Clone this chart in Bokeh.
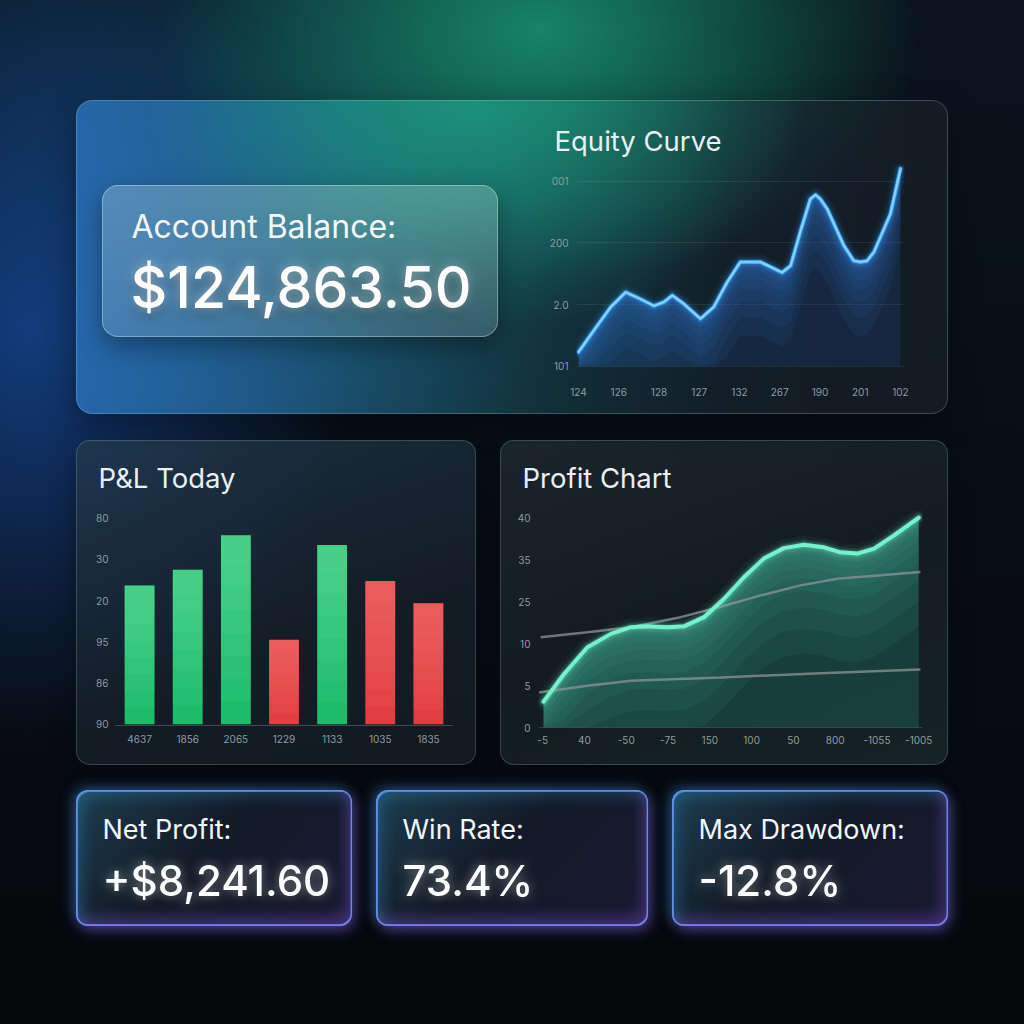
import numpy as np
from bokeh.plotting import figure
from bokeh.models import Range1d, FactorRange, FixedTicker, Spacer, Row, Column
from bokeh.core.properties import value
from bokeh.embed import file_html
from bokeh.resources import INLINE

FONT = "Inter"
FONT_MED = "'Inter Medium', 'Inter', sans-serif"

# ---------------- data ----------------
ACCOUNT_LABEL = "Account Balance:"
ACCOUNT_VALUE = "$124,863.50"

EQ_TITLE = "Equity Curve"
EQ_X = [0.0, 0.38, 0.80, 1.17, 1.54, 1.87, 2.12, 2.33, 2.62, 3.03, 3.36, 3.69, 4.02,
        4.52, 5.06, 5.27, 5.52, 5.76, 5.89, 6.01, 6.18, 6.59, 6.84, 7.01, 7.17, 7.34, 7.75, 8.0]
EQ_Y = [0.23, 0.58, 0.96, 1.20, 1.09, 0.98, 1.04, 1.15, 1.01, 0.77, 0.96, 1.36, 1.69,
        1.69, 1.52, 1.63, 2.20, 2.71, 2.78, 2.71, 2.55, 1.96, 1.71, 1.69, 1.71, 1.85, 2.47, 3.20]
EQ_X_TICK_LABELS = ["124", "126", "128", "127", "132", "267", "190", "201", "102"]
EQ_Y_TICK_LABELS = ["101", "2.0", "200", "001"]

PL_TITLE = "P&L Today"
PL_CATS = ["4637", "1856", "2065", "1229", "1133", "1035", "1835"]
PL_VALUES = [3.37, 3.75, 4.59, 2.05, 4.35, 3.48, 2.94]
PL_SIDE = ["gain", "gain", "gain", "loss", "gain", "loss", "loss"]
PL_Y_TICK_LABELS = ["90", "86", "95", "20", "30", "80"]

PC_TITLE = "Profit Chart"
PC_X = [0.02, 0.51, 1.07, 1.63, 2.11, 2.50, 2.98, 3.38, 3.86, 4.34, 4.82, 5.29, 5.77,
        6.25, 6.73, 7.13, 7.53, 7.93, 8.40, 9.0]
PC_Y = [0.62, 1.28, 1.92, 2.24, 2.40, 2.42, 2.40, 2.42, 2.64, 3.08, 3.60, 4.04, 4.29,
        4.37, 4.31, 4.19, 4.16, 4.28, 4.59, 5.02]
PC_REF1_X = [-0.05, 1.07, 2.11, 3.30, 4.26, 5.22, 6.17, 7.05, 8.09, 9.04]
PC_REF1_Y = [2.16, 2.28, 2.40, 2.64, 2.89, 3.16, 3.40, 3.56, 3.64, 3.72]
PC_REF2_X = [-0.09, 1.07, 2.11, 4.26, 6.65, 9.04]
PC_REF2_Y = [0.84, 1.00, 1.12, 1.20, 1.30, 1.39]
PC_X_TICK_LABELS = ["-5", "40", "-50", "-75", "150", "100", "50", "800", "-1055", "-1005"]
PC_Y_TICK_LABELS = ["0", "5", "10", "25", "35", "40"]

KPI_LABELS = ["Net Profit:", "Win Rate:", "Max Drawdown:"]
KPI_VALUES = ["+$8,241.60", "73.4%", "-12.8%"]

# ---------------- helpers ----------------
def base_fig(w, h, xr, yr, ml=0, mr=0, mt=0, mb=0, axes=False):
    kw = dict(width=w, height=h, x_range=xr, y_range=yr, output_backend="svg",
              toolbar_location=None, min_border_left=ml, min_border_right=mr,
              min_border_top=mt, min_border_bottom=mb)
    if not axes:
        kw.update(x_axis_location=None, y_axis_location=None)
    p = figure(**kw)
    p.outline_line_color = None
    p.background_fill_alpha = 0
    p.border_fill_alpha = 0
    for g in p.grid:
        g.visible = False
    return p


def text_fig(w, h, items, styles=None):
    p = base_fig(w, h, Range1d(0, w), Range1d(h, 0))
    for x, y, t, size, color, font in items:
        p.text(x=[x], y=[y], text=[t], text_font=value(font), text_font_size=f"{size}px",
               text_color=color, text_align="left", text_baseline="middle")
    if styles:
        p.styles = styles
    return p


def title_block(w, h, x, y, txt):
    # small offset so the title canvas does not share an edge with the chart below it
    tf = text_fig(w - 2, h, [(x - 2, y, txt, 27.5, TITLE_COLOR, FONT)])
    return Row(children=[Spacer(width=2, height=h), tf])


def style_axes(p, xstand, ystand, size="10px", color="#8e9ba3"):
    for ax in p.axis:
        ax.axis_line_color = None
        ax.major_tick_line_color = None
        ax.minor_tick_line_color = None
        ax.major_tick_out = 0
        ax.major_tick_in = 0
        ax.minor_tick_out = 0
        ax.major_label_text_font = FONT
        ax.major_label_text_font_size = size
        ax.major_label_text_color = color
    p.xaxis.major_label_standoff = xstand
    p.yaxis.major_label_standoff = ystand


def set_ticks(axis, labels):
    axis.ticker = FixedTicker(ticks=list(range(len(labels))))
    axis.major_label_overrides = {i: s for i, s in enumerate(labels)}


TITLE_COLOR = "#e9eff2"
GLOW = {"filter": "drop-shadow(0 0 6px rgba(255,255,255,0.5)) drop-shadow(0 6px 6px rgba(0,0,0,0.35))"}

# ---------------- top panel ----------------
acct_label = text_fig(396, 60, [(29, 41, ACCOUNT_LABEL, 32, "#f4f8f9", FONT)])
acct_value = text_fig(396, 92, [(28, 42, ACCOUNT_VALUE, 57, "#ffffff", FONT_MED)], styles=GLOW)
acct_box = Column(children=[acct_label, acct_value], styles={
    "border-radius": "16px",
    "background": "linear-gradient(180deg, rgba(210,240,238,0.27) 0%, rgba(185,225,228,0.20) 100%)",
    "box-shadow": "inset 0 0 0 1px rgba(255,255,255,0.32), 0 10px 24px rgba(0,0,0,0.35)",
})
acct_col = Column(children=[Spacer(height=85, width=396), acct_box])

eq_title = title_block(412, 64, 18, 40, EQ_TITLE)
eq = base_fig(412, 250, Range1d(-0.05, 8.1), Range1d(-0.085, 3.27), ml=40, mr=44, mt=0, mb=43, axes=True)
style_axes(eq, 16, 8, size="10px")
set_ticks(eq.xaxis, EQ_X_TICK_LABELS)
set_ticks(eq.yaxis, EQ_Y_TICK_LABELS)
eq.ygrid.visible = True
eq.ygrid.ticker = FixedTicker(ticks=list(range(len(EQ_Y_TICK_LABELS))))
eq.ygrid.grid_line_color = "#ffffff"
eq.ygrid.grid_line_alpha = 0.08

ey = np.array(EQ_Y)
eq.varea(x=EQ_X, y1=0, y2=EQ_Y, fill_color="#2560c0", fill_alpha=0.18)
for off in [1.2, 0.9, 0.65, 0.45, 0.3, 0.18, 0.08]:
    eq.varea(x=EQ_X, y1=np.maximum(ey - off, 0), y2=EQ_Y, fill_color="#3a8ef5", fill_alpha=0.07)
for w, a in [(16, 0.06), (10, 0.12), (6, 0.25)]:
    eq.line(EQ_X, EQ_Y, line_color="#2f9bff", line_width=w, line_alpha=a, line_join="round", line_cap="round")
eq.line(EQ_X, EQ_Y, line_color="#58bcff", line_width=3.5, line_join="round", line_cap="round")
eq.line(EQ_X, EQ_Y, line_color="#c4eaff", line_width=1.2, line_alpha=0.6, line_join="round")

eq_col = Column(children=[eq_title, eq])

top_panel = Row(children=[Spacer(width=26, height=10), acct_col, Spacer(width=38, height=10), eq_col], styles={
    "border-radius": "16px",
    "background": ("radial-gradient(ellipse 330px 230px at 400px 0px, rgba(28,165,128,0.70) 0%, rgba(28,165,128,0) 100%), "
                   "linear-gradient(90deg, rgba(42,112,182,0.85) 0%, rgba(36,118,160,0.62) 30%, rgba(28,86,96,0.45) 55%, "
                   "rgba(26,42,52,0.55) 75%, rgba(26,34,42,0.62) 100%)"),
    "box-shadow": "inset 0 0 0 1px rgba(170,210,230,0.28), 0 10px 30px rgba(0,0,0,0.35)",
})
top_row = Row(children=[Spacer(width=76, height=10), top_panel])

# ---------------- P&L panel ----------------
pl_title = title_block(400, 72, 22, 37, PL_TITLE)
pl = base_fig(400, 253, FactorRange(factors=PL_CATS), Range1d(-0.03, 5.14), ml=39, mr=24, mt=0, mb=40, axes=True)
style_axes(pl, 9, 7, size="10px")
pl.xaxis.axis_line_color = "#3e4c56"
pl.xaxis.axis_line_width = 1.2
set_ticks(pl.yaxis, PL_Y_TICK_LABELS)
base_col = {"gain": "#15b966", "loss": "#df3a3a"}
light_col = {"gain": "#8ef0b2", "loss": "#ff8c8c"}
pl.vbar(x=PL_CATS, top=PL_VALUES, width=0.62, fill_color=[base_col[s] for s in PL_SIDE], line_color=None)
pv = np.array(PL_VALUES)
for k in [0.0, 0.12, 0.24, 0.36, 0.48, 0.6, 0.72, 0.84]:
    pl.vbar(x=PL_CATS, top=PL_VALUES, bottom=list(pv * k), width=0.62,
            fill_color=[light_col[s] for s in PL_SIDE], fill_alpha=0.07, line_color=None)

pl_panel = Column(children=[pl_title, pl], styles={
    "border-radius": "14px",
    "background": "linear-gradient(160deg, rgba(34,58,76,0.75) 0%, rgba(22,33,43,0.78) 60%, rgba(21,29,35,0.82) 100%)",
    "box-shadow": "inset 0 0 0 1px rgba(150,190,200,0.25), 0 8px 24px rgba(0,0,0,0.35)",
})

# ---------------- Profit panel ----------------
pc_title = title_block(448, 70, 22, 37, PC_TITLE)
pc = base_fig(448, 255, Range1d(-0.1, 9.09), Range1d(-0.07, 5.19), ml=38, mr=26, mt=0, mb=35, axes=True)
style_axes(pc, 5, 8, size="10px")
set_ticks(pc.xaxis, PC_X_TICK_LABELS)
set_ticks(pc.yaxis, PC_Y_TICK_LABELS)
pc.ygrid.visible = True
pc.ygrid.ticker = FixedTicker(ticks=[0])
pc.ygrid.grid_line_color = "#ffffff"
pc.ygrid.grid_line_alpha = 0.15

py_ = np.array(PC_Y)
pc.varea(x=PC_X, y1=0, y2=PC_Y, fill_color="#1f6e62", fill_alpha=0.4)
for off in [2.6, 2.0, 1.5, 1.1, 0.8, 0.55, 0.35, 0.18]:
    pc.varea(x=PC_X, y1=np.maximum(py_ - off, 0), y2=PC_Y, fill_color="#52c4aa", fill_alpha=0.075)
pc.line(PC_REF1_X, PC_REF1_Y, line_color="#8c9594", line_width=2.5, line_alpha=0.75)
pc.line(PC_REF2_X, PC_REF2_Y, line_color="#8c9594", line_width=2.5, line_alpha=0.75)
for w, a in [(18, 0.05), (11, 0.10), (7, 0.2)]:
    pc.line(PC_X, PC_Y, line_color="#6cf0c6", line_width=w, line_alpha=a, line_join="round", line_cap="round")
pc.line(PC_X, PC_Y, line_color="#74f2cc", line_width=4, line_join="round", line_cap="round")

pc_panel = Column(children=[pc_title, pc], styles={
    "border-radius": "14px",
    "background": "linear-gradient(160deg, rgba(30,44,50,0.78) 0%, rgba(22,31,35,0.8) 50%, rgba(24,42,42,0.78) 100%)",
    "box-shadow": "inset 0 0 0 1px rgba(150,200,190,0.25), 0 8px 24px rgba(0,0,0,0.35)",
})

mid_row = Row(children=[Spacer(width=76, height=10), pl_panel, Spacer(width=24, height=10), pc_panel])

# ---------------- KPI boxes ----------------
KPI_W = [276, 272, 276]
box_style = {
    "border-radius": "12px",
    "background": "linear-gradient(135deg, rgba(36,82,106,0.72) 0%, rgba(22,30,44,0.82) 45%, rgba(30,28,58,0.82) 100%)",
    "box-shadow": ("inset 0 0 0 1.5px rgba(120,145,255,0.7), inset 2px 2px 0 0 rgba(90,200,255,0.45), "
                   "inset -1px -2px 0 0 rgba(170,120,255,0.55), "
                   "inset 7px 7px 14px rgba(60,180,255,0.22), inset -6px -9px 14px rgba(150,100,255,0.30), "
                   "-3px -3px 14px rgba(60,170,255,0.35), 3px 5px 14px rgba(150,100,255,0.40)"),
}
kpi_children = [Spacer(width=76, height=10)]
for i, (lab, val) in enumerate(zip(KPI_LABELS, KPI_VALUES)):
    w = KPI_W[i]
    lf = text_fig(w, 62, [(26, 39, lab, 27, "#f2f6f8", FONT)])
    vf = text_fig(w, 74, [(26, 28, val, 42, "#ffffff", FONT_MED)], styles=GLOW)
    kpi_children.append(Column(children=[lf, vf], styles=dict(box_style)))
    if i < 2:
        kpi_children.append(Spacer(width=24, height=10))
bot_row = Row(children=kpi_children)

root = Column(children=[Spacer(height=100, width=10), top_row, Spacer(height=26, width=10), mid_row,
                        Spacer(height=25, width=10), bot_row],
              width=1024, height=1024,
              styles={"background": (
                  "radial-gradient(ellipse 380px 250px at 540px 30px, rgba(24,150,110,0.85) 0%, rgba(24,150,110,0) 100%), "
                  "radial-gradient(ellipse 320px 420px at 30px 330px, rgba(22,78,165,0.70) 0%, rgba(22,78,165,0) 100%), "
                  "radial-gradient(ellipse 520px 300px at 300px 120px, rgba(18,80,110,0.45) 0%, rgba(18,80,110,0) 100%), "
                  "linear-gradient(180deg, #0a141e 0%, #080c12 60%, #05070a 100%)")})

open("out.html", "w").write(file_html(root, INLINE))
